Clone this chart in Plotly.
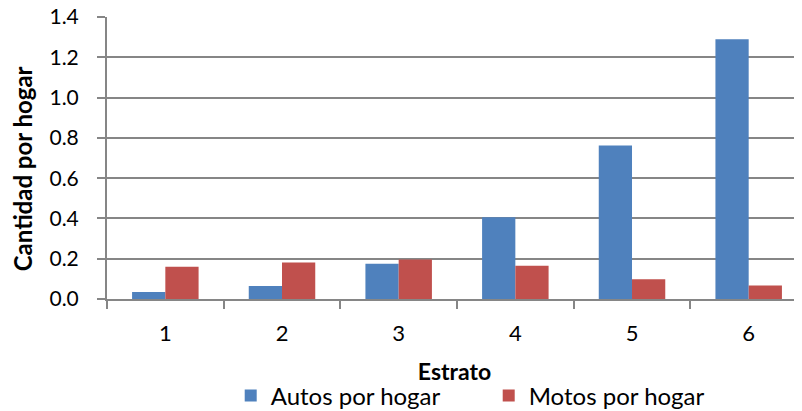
import plotly.graph_objects as go

estratos = ["1", "2", "3", "4", "5", "6"]
autos = [0.035, 0.064, 0.175, 0.406, 0.762, 1.29]
motos = [0.160, 0.181, 0.196, 0.165, 0.098, 0.067]
y_ticks = [0.0, 0.2, 0.4, 0.6, 0.8, 1.0, 1.2, 1.4]
y_labels = ["0.0", "0.2", "0.4", "0.6", "0.8", "1.0", "1.2", "1.4"]

FONT = "Lato"
GRID = "#868686"

fig = go.Figure()
fig.add_trace(go.Bar(x=estratos, y=autos, name="Autos por hogar",
                     marker=dict(color="#4F81BD", line=dict(width=0))))
fig.add_trace(go.Bar(x=estratos, y=motos, name="Motos por hogar",
                     marker=dict(color="#C0504D", line=dict(width=0))))

# The page body has an 8px margin, so the figure is sized to the visible area.
fig.update_layout(
    width=794, height=403,
    margin=dict(l=99, r=0, t=9, b=112, autoexpand=False),
    paper_bgcolor="white", plot_bgcolor="white",
    font=dict(family=FONT, size=21, color="#000000"),
    barmode="group", bargap=0.43, bargroupgap=0,
    showlegend=True,
    legend=dict(orientation="h", x=0.178, xanchor="left", y=-0.344, yanchor="middle",
                font=dict(size=24), entrywidth=213, entrywidthmode="pixels",
                traceorder="normal", tracegroupgap=0),
    xaxis=dict(
        type="category", range=[-0.5, 5.457], automargin=False,
        showline=True, linecolor=GRID, linewidth=2,
        ticks="outside", tickson="boundaries", ticklen=8, tickcolor=GRID, tickwidth=2,
        showgrid=False, ticklabelstandoff=14,
        tickfont=dict(size=22),
        title=dict(text="<b>Estrato</b>", font=dict(size=23), standoff=18),
    ),
    yaxis=dict(
        range=[0, 1.4001], tickvals=y_ticks, ticktext=y_labels, automargin=False,
        showline=True, linecolor=GRID, linewidth=2,
        ticks="outside", ticklen=8, tickcolor=GRID, tickwidth=2,
        showgrid=True, gridcolor=GRID, gridwidth=2,
        zeroline=False, ticklabelstandoff=14, ticklabeloverflow="allow",
        tickfont=dict(size=21),
    ),
    annotations=[dict(
        text="<b>Cantidad por hogar</b>", textangle=-90, showarrow=False,
        xref="paper", yref="paper", x=0, y=0.46, xanchor="center", yanchor="middle",
        xshift=-85, font=dict(size=24, family=FONT, color="#000000"),
    )],
)

fig.write_html("out.html")
